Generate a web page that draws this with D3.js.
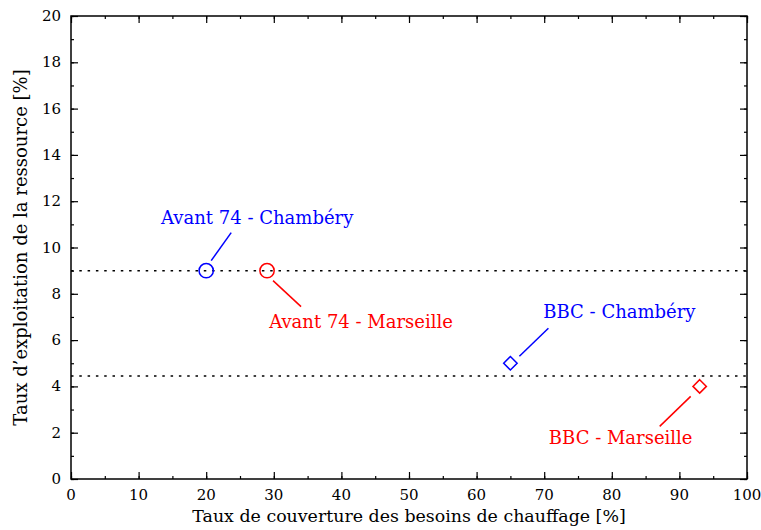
<!DOCTYPE html>
<html>
<head>
<meta charset="utf-8">
<script src="https://cdn.jsdelivr.net/npm/d3@7"></script>
<style>
  body { margin: 0; background: #fff; }
</style>
</head>
<body>
<div id="chart"></div>
<script>
// data
let names = ['Avant 74 - Chambéry', 'Avant 74 - Marseille', 'BBC - Chambéry', 'BBC - Marseille'];
let coverage = [20, 29, 65, 93];     // x, %
let exploitation = [9, 9, 5, 4];     // y, %
let colors = ['#0000ff', '#ff0000', '#0000ff', '#ff0000'];
let shapes = ['circle', 'circle', 'diamond', 'diamond'];
let refLines = [9, 4.45];
let xTicks = [0, 10, 20, 30, 40, 50, 60, 70, 80, 90, 100];
let yTicks = [0, 2, 4, 6, 8, 10, 12, 14, 16, 18, 20];

// leader line and label offsets (px) from each marker
let leaders = [
  {x1: 5, y1: -10, x2: 25, y2: -38, tx: 51, ty: -47},
  {x1: 6, y1: 10, x2: 34, y2: 36, tx: 94, ty: 57},
  {x1: 9, y1: -7, x2: 38, y2: -35, tx: 109, ty: -45},
  {x1: -9, y1: 10, x2: -40, y2: 40, tx: -79, ty: 58}
];

let serif = '"DejaVu Serif", serif';

let margin = {top: 16, right: 14, bottom: 51, left: 71};
let width = 761 - margin.left - margin.right;
let height = 530 - margin.top - margin.bottom;

let svg = d3.select('#chart').append('svg')
    .attr('width', 761)
    .attr('height', 530)
  .append('g')
    .attr('transform', 'translate(' + margin.left + ',' + margin.top + ')');

let x = d3.scaleLinear().domain([0, 100]).range([0, width]);
let y = d3.scaleLinear().domain([0, 20]).range([height, 0]);

// minor ticks
let xMinor = d3.range(0, 101, 5);
let yMinor = d3.range(0, 21, 1);

function tickAxis(axis, scale, vals, size) {
  return axis(scale).tickValues(vals).tickSize(size).tickFormat('');
}

// ticks point inward on all four sides
svg.append('g').attr('transform', 'translate(0,' + height + ')')
  .call(tickAxis(d3.axisTop, x, xMinor, 3));
svg.append('g').attr('transform', 'translate(0,' + height + ')')
  .call(tickAxis(d3.axisTop, x, xTicks, 7));
svg.append('g').call(tickAxis(d3.axisBottom, x, xMinor, 3));
svg.append('g').call(tickAxis(d3.axisBottom, x, xTicks, 7));
svg.append('g').call(tickAxis(d3.axisRight, y, yMinor, 3));
svg.append('g').call(tickAxis(d3.axisRight, y, yTicks, 7));
svg.append('g').attr('transform', 'translate(' + width + ',0)')
  .call(tickAxis(d3.axisLeft, y, yMinor, 3));
svg.append('g').attr('transform', 'translate(' + width + ',0)')
  .call(tickAxis(d3.axisLeft, y, yTicks, 7));

svg.selectAll('.domain').remove();
svg.selectAll('.tick line').attr('stroke', '#000').attr('stroke-width', 1.2);

// tick labels
svg.selectAll('.xlab').data(xTicks).enter().append('text')
  .attr('x', d => x(d))
  .attr('y', height + 21)
  .attr('text-anchor', 'middle')
  .style('font-family', serif)
  .style('font-size', '15px')
  .text(d => d);

svg.selectAll('.ylab').data(yTicks).enter().append('text')
  .attr('x', -10)
  .attr('y', d => y(d) + 5)
  .attr('text-anchor', 'end')
  .style('font-family', serif)
  .style('font-size', '15px')
  .text(d => d);

// frame
svg.append('rect')
  .attr('width', width)
  .attr('height', height)
  .attr('fill', 'none')
  .attr('stroke', '#000')
  .attr('stroke-width', 1.5);

// dotted reference lines
svg.selectAll('.ref').data(refLines).enter().append('line')
  .attr('x1', 0).attr('x2', width)
  .attr('y1', d => y(d)).attr('y2', d => y(d))
  .attr('stroke', '#000')
  .attr('stroke-width', 1.5)
  .attr('stroke-dasharray', '2.5,5.8');

// markers
let sym = {circle: d3.symbolCircle, diamond: d3.symbolDiamond2};
let symSize = {circle: 160, diamond: 115};
svg.selectAll('.pt').data(names).enter().append('path')
  .attr('transform', (d, i) => 'translate(' + x(coverage[i]) + ',' + y(exploitation[i]) + ')')
  .attr('d', (d, i) => d3.symbol().type(sym[shapes[i]]).size(symSize[shapes[i]])())
  .attr('fill', 'none')
  .attr('stroke', (d, i) => colors[i])
  .attr('stroke-width', 1.5);

// leader lines and labels
names.forEach(function(n, i) {
  let px = x(coverage[i]);
  let py = y(exploitation[i]);
  let l = leaders[i];
  svg.append('line')
    .attr('x1', px + l.x1).attr('y1', py + l.y1)
    .attr('x2', px + l.x2).attr('y2', py + l.y2)
    .attr('stroke', colors[i])
    .attr('stroke-width', 1.5);
  svg.append('text')
    .attr('x', px + l.tx)
    .attr('y', py + l.ty)
    .attr('text-anchor', 'middle')
    .attr('fill', colors[i])
    .style('font-family', serif)
    .style('font-size', '18px')
    .text(n);
});

// axis titles
svg.append('text')
  .attr('x', width / 2)
  .attr('y', height + 43)
  .attr('text-anchor', 'middle')
  .style('font-family', serif)
  .style('font-size', '17.4px')
  .text('Taux de couverture des besoins de chauffage [%]');

svg.append('text')
  .attr('transform', 'translate(-44,' + (height / 2) + ') rotate(-90)')
  .attr('text-anchor', 'middle')
  .style('font-family', serif)
  .style('font-size', '18px')
  .text('Taux d’exploitation de la ressource [%]');
</script>
</body>
</html>
